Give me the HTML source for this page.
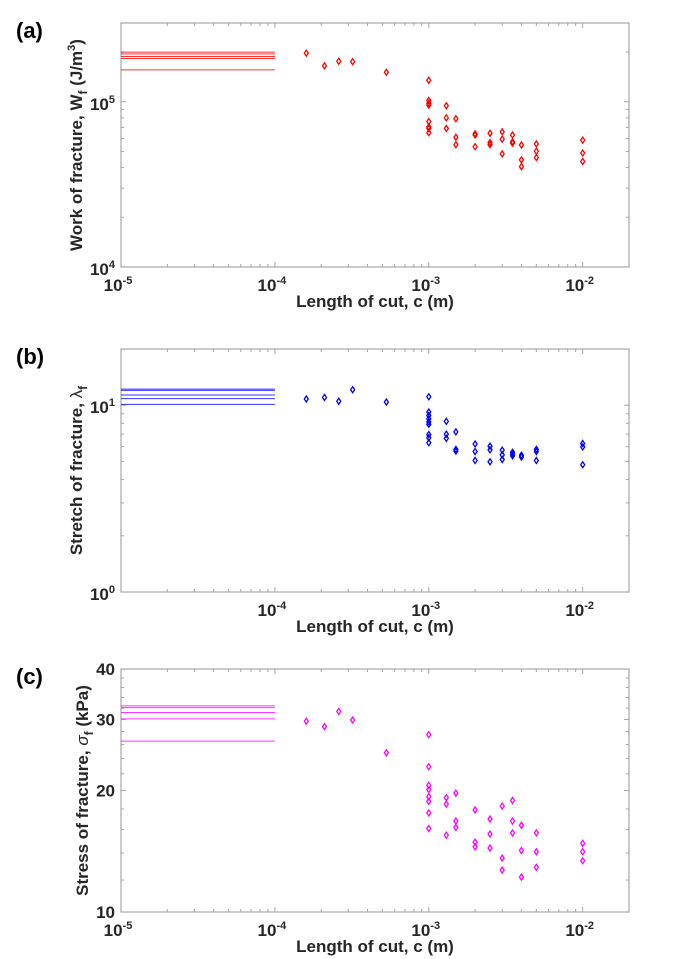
<!DOCTYPE html>
<html><head><meta charset="utf-8">
<style>
html,body{margin:0;padding:0;background:#fff;}
svg{display:block;font-family:"Liberation Sans",Arial,sans-serif;}
</style></head>
<body>
<svg id="chart" width="692" height="959" viewBox="0 0 692 959" xmlns="http://www.w3.org/2000/svg"></svg>
<script>
// ---- data ----
const xCats = [1.6e-4, 2.1e-4, 2.6e-4, 3.2e-4, 5.3e-4];
// panel a: work of fracture
const aLines = [2.0e5, 1.95e5, 1.88e5, 1.83e5, 1.56e5];
const aX = [1.6e-4,2.1e-4,2.6e-4,3.2e-4,5.3e-4,
 1e-3,1e-3,1e-3,1e-3,1e-3,1e-3,1e-3,1e-3,
 1.3e-3,1.3e-3,1.3e-3, 1.5e-3,1.5e-3,1.5e-3, 2e-3,2e-3,2e-3, 2.5e-3,2.5e-3,2.5e-3,
 3e-3,3e-3,3e-3, 3.5e-3,3.5e-3,3.5e-3, 4e-3,4e-3,4e-3, 5e-3,5e-3,5e-3, 1e-2,1e-2,1e-2];
const aY = [1.97e5,1.65e5,1.76e5,1.75e5,1.51e5,
 1.35e5,1.02e5,0.98e5,0.955e5,0.76e5,0.705e5,0.69e5,0.65e5,
 0.946e5,0.80e5,0.69e5, 0.79e5,0.61e5,0.55e5, 0.64e5,0.63e5,0.535e5, 0.645e5,0.567e5,0.55e5,
 0.658e5,0.594e5,0.484e5, 0.63e5,0.573e5,0.562e5, 0.548e5,0.445e5,0.405e5, 0.556e5,0.502e5,0.46e5, 0.586e5,0.49e5,0.435e5];
// panel b: stretch
const bLines = [12.2, 12.0, 11.35, 10.85, 10.1];
const bX = [1.6e-4,2.1e-4,2.6e-4,3.2e-4,5.3e-4,
 1e-3,1e-3,1e-3,1e-3,1e-3,1e-3,1e-3,1e-3,1e-3,
 1.3e-3,1.3e-3,1.3e-3, 1.5e-3,1.5e-3,1.5e-3, 2e-3,2e-3,2e-3, 2.5e-3,2.5e-3,2.5e-3,
 3e-3,3e-3,3e-3, 3.5e-3,3.5e-3,3.5e-3, 4e-3,4e-3, 5e-3,5e-3,5e-3, 1e-2,1e-2,1e-2];
const bY = [10.8,11.0,10.5,12.1,10.4,
 11.1,9.2,8.8,8.45,8.15,7.9,6.97,6.7,6.3,
 8.2,7.0,6.65, 7.2,5.8,5.68, 6.2,5.65,5.06, 6.04,5.77,4.98,
 5.75,5.42,5.12, 5.6,5.47,5.36, 5.4,5.28, 5.8,5.65,5.06, 6.24,5.98,4.8];
// panel c: stress
const cLines = [32.4, 32.1, 31.2, 30.1, 26.5];
const cX = [1.6e-4,2.1e-4,2.6e-4,3.2e-4,5.3e-4,
 1e-3,1e-3,1e-3,1e-3,1e-3,1e-3,1e-3,1e-3,
 1.3e-3,1.3e-3,1.3e-3, 1.5e-3,1.5e-3,1.5e-3, 2e-3,2e-3,2e-3, 2.5e-3,2.5e-3,2.5e-3,
 3e-3,3e-3,3e-3, 3.5e-3,3.5e-3,3.5e-3, 4e-3,4e-3,4e-3, 5e-3,5e-3,5e-3, 1e-2,1e-2,1e-2];
const cY = [29.7,28.8,31.4,29.9,24.8,
 27.5,22.9,20.6,20.1,19.3,18.8,17.6,16.1,
 19.2,18.5,15.5, 19.7,16.8,16.2, 17.9,14.9,14.5, 17.0,15.6,14.4,
 18.3,13.6,12.7, 18.9,16.8,15.7, 16.4,14.2,12.2, 15.7,14.1,12.9, 14.8,14.1,13.4];
const xTickExp = [-5, -4, -3, -2];

// ---- drawing ----
const svg = document.getElementById('chart');
const NS = 'http://www.w3.org/2000/svg';
function mk(tag, attrs, parent){ const e=document.createElementNS(NS,tag); for(const k in attrs) e.setAttribute(k,attrs[k]); (parent||svg).appendChild(e); return e; }

const L=121, R=629, XMIN=-5, XMAX=Math.log10(0.02);
function xs(v){ return L + (Math.log10(v)-XMIN)/(XMAX-XMIN)*(R-L); }

function panel(cfg){
  const g = mk('g',{});
  
  
  const T=cfg.top, B=cfg.bot, lmin=Math.log10(cfg.ymin), lmax=Math.log10(cfg.ymax);
  const ys = v => B - (Math.log10(v)-lmin)/(lmax-lmin)*(B-T);
  const box = mk('rect',{x:L,y:T,width:R-L,height:B-T,fill:'none',stroke:'#a6a6a6','stroke-width':1.2},g);
  
  
  for(let e=-5;e<=-2;e++){
    for(let m=1;m<=9;m++){
      const v=m*Math.pow(10,e); if(Math.log10(v)>XMAX) break;
      const x=xs(v), len=m===1?5:3;
      mk('line',{x1:x,x2:x,y1:B,y2:B-len,stroke:'#a6a6a6','stroke-width':1},g);
      mk('line',{x1:x,x2:x,y1:T,y2:T+len,stroke:'#a6a6a6','stroke-width':1},g);
    }
  }
  cfg.yTicks.forEach(t=>{
    const y=ys(t.v), len=t.major?5:3;
    mk('line',{x1:L,x2:L+len,y1:y,y2:y,stroke:'#a6a6a6','stroke-width':1},g);
    mk('line',{x1:R,x2:R-len,y1:y,y2:y,stroke:'#a6a6a6','stroke-width':1},g);
  });
  xTickExp.forEach(e=>{
    if(cfg.skipX && e===-5) return;
    const t = mk('text',{x:xs(Math.pow(10,e))-3,y:B+24,'text-anchor':'middle','font-size':17,'font-weight':'bold',fill:'#262626'},g);
    
    
    t.textContent='10';
    const s=mk('tspan',{dy:-7,'font-size':11},t); s.textContent=String(e);
  });
  cfg.yLabels.forEach(lb=>{
    const t = mk('text',{x:L-6,y:ys(lb.v)+ (lb.exp!==undefined?8:6),'text-anchor':'end','font-size':17,'font-weight':'bold',fill:'#262626'},g);
    
    
    if(lb.exp!==undefined){ t.textContent='10'; const s=mk('tspan',{dy:-7,'font-size':11},t); s.textContent=String(lb.exp); }
    else t.textContent=lb.text;
  });
  cfg.lines.forEach(v=>{
    const ln = mk('line',{x1:xs(1e-5),x2:xs(1e-4),y1:ys(v),y2:ys(v),stroke:cfg.color,'stroke-width':1,'stroke-opacity':0.8},g);
    
    
  });
  cfg.xs.forEach((xv,i)=>{
    const cx=xs(xv), cy=ys(cfg.ys[i]);
    const p = mk('polygon',{points:`${cx},${cy-3} ${cx+2},${cy} ${cx},${cy+3} ${cx-2},${cy}`,fill:'none',stroke:cfg.color,'stroke-width':1.3},g);
    
    
  });
  const xt = mk('text',{x:375,y:B+40,'text-anchor':'middle','font-size':17,'font-weight':'bold',fill:'#262626'},g);
  
  
  xt.textContent='Length of cut, c (m)';
  const cy=(T+B)/2;
  const yt = mk('text',{x:0,y:0,transform:`translate(${cfg.ytx},${cy}) rotate(-90)`,'text-anchor':'middle','font-size':17,'font-weight':'bold',fill:'#262626'},g);
  
  
  cfg.yTitle(yt);
  const pl = mk('text',{x:16,y:cfg.letterY,'font-size':22,'font-weight':'bold',fill:'#000'},g);
  
  
  pl.textContent=cfg.letter;
}
function logTicks(lo,hi){ const a=[]; for(let e=lo;e<hi;e++) for(let m=1;m<=9;m++) a.push({v:m*Math.pow(10,e),major:m===1}); a.push({v:Math.pow(10,hi),major:true}); return a; }
function sp(t,txt,attrs){ const s=mk('tspan',attrs||{},t); s.textContent=txt; return s; }

panel({name:'panel-a-work',top:23,bot:267,ymin:1e4,ymax:3e5,color:'#ff0000',lines:aLines,xs:aX,ys:aY,
  yTicks:logTicks(4,5).concat([{v:2e5,major:false},{v:3e5,major:false}]),
  yLabels:[{v:1e4,exp:4},{v:1e5,exp:5}], letter:'(a)', letterY:38, ytx:82,
  yTitle:t=>{ sp(t,'Work of fracture, W'); sp(t,'f',{dy:5,'font-size':12}); sp(t,' (J/m',{dy:-5}); sp(t,'3',{dy:-7,'font-size':11}); sp(t,')',{dy:7}); }});
panel({name:'panel-b-stretch',top:349,bot:592,ymin:1,ymax:20,color:'#0000ff',lines:bLines,xs:bX,ys:bY,skipX:true,
  yTicks:logTicks(0,1).concat([{v:20,major:false}]),
  yLabels:[{v:1,exp:0},{v:10,exp:1}], letter:'(b)', letterY:364, ytx:82,
  yTitle:t=>{ sp(t,'Stretch of fracture, '); sp(t,'λ',{'font-weight':'normal'}); sp(t,'f',{dy:5,'font-size':12}); }});
panel({name:'panel-c-stress',top:669,bot:912,ymin:10,ymax:40,color:'#ff00ff',lines:cLines,xs:cX,ys:cY,
  yTicks:[10,12,14,16,18,20,22,24,26,28,30,32,34,36,38,40].map(v=>({v:v,major:v%10===0})),
  yLabels:[{v:10,text:'10'},{v:20,text:'20'},{v:30,text:'30'},{v:40,text:'40'}], letter:'(c)', letterY:684, ytx:88,
  yTitle:t=>{ sp(t,'Stress of fracture, '); sp(t,'σ',{'font-style':'italic','font-weight':'normal'}); sp(t,'f',{dy:5,'font-size':12}); sp(t,' (kPa)',{dy:-5}); }});
</script>
</body></html>
